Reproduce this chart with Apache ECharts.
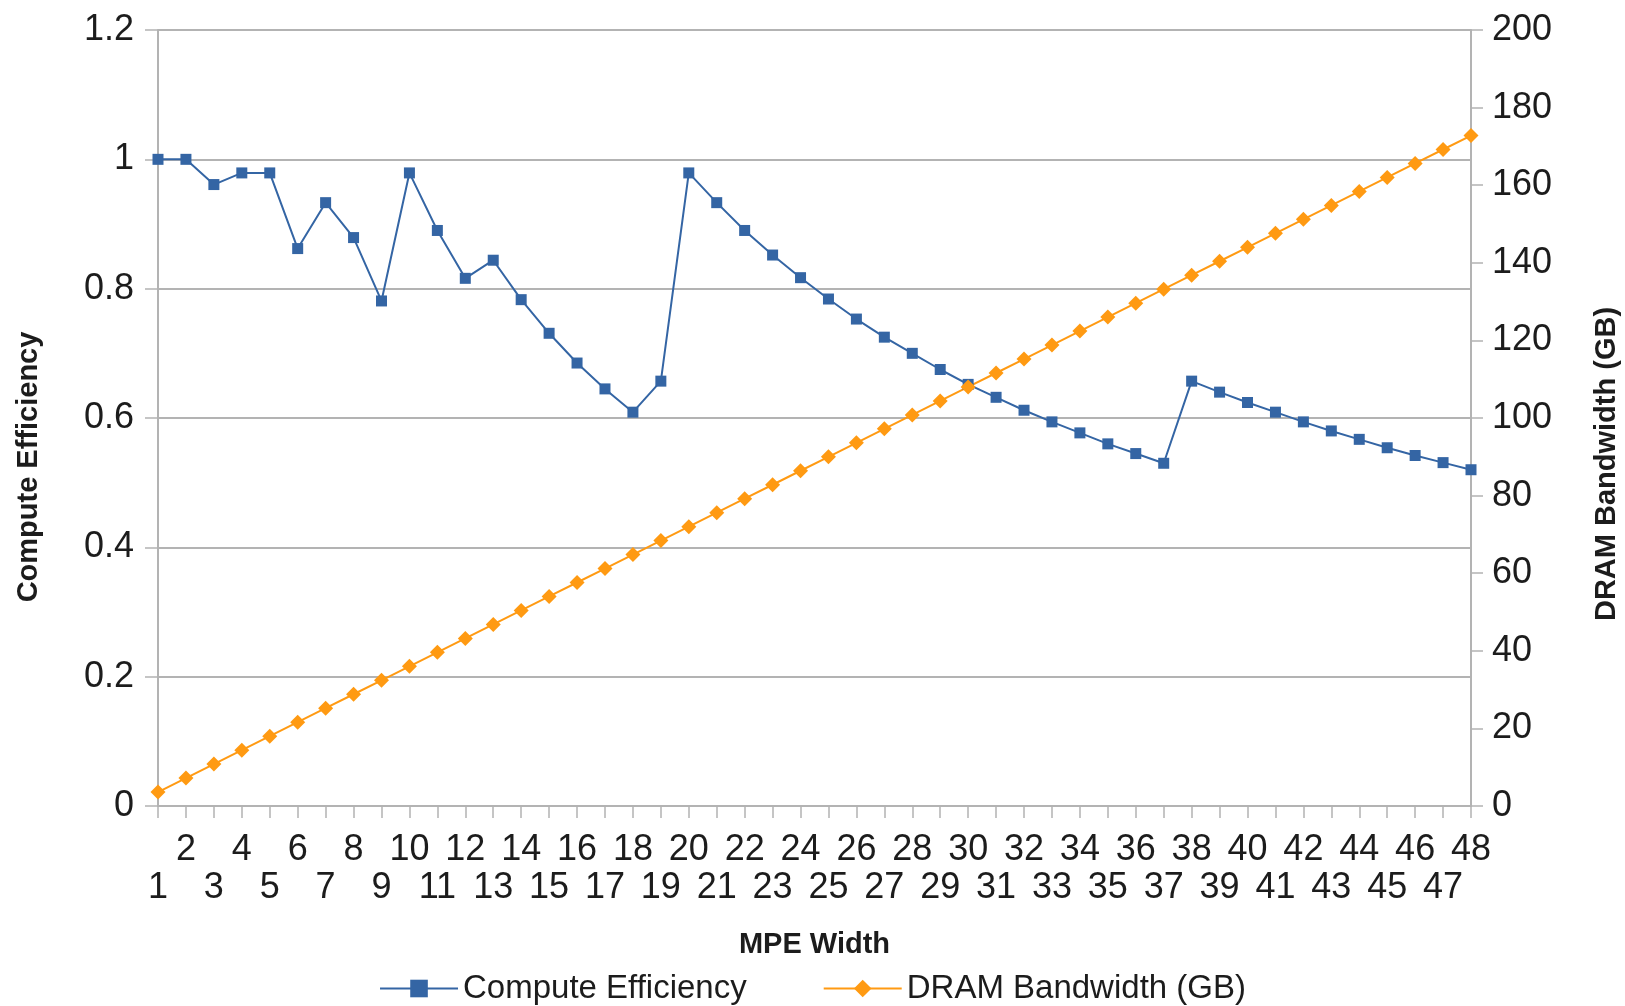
<!DOCTYPE html>
<html>
<head>
<meta charset="utf-8">
<title>Compute Efficiency vs DRAM Bandwidth</title>
<script src="https://cdn.jsdelivr.net/npm/echarts@6/dist/echarts.min.js"></script>
<style>
  html, body { margin: 0; padding: 0; background: #fff; }
  #chart { width: 1625px; height: 1006px; }
</style>
</head>
<body>
<div id="chart"></div>
<script>
// MPE width categories
const widths = [1, 2, 3, 4, 5, 6, 7, 8, 9, 10, 11, 12, 13, 14, 15, 16, 17, 18, 19, 20,
  21, 22, 23, 24, 25, 26, 27, 28, 29, 30, 31, 32, 33, 34, 35, 36, 37, 38, 39, 40,
  41, 42, 43, 44, 45, 46, 47, 48];

const computeEfficiency = [1.0, 1.0, 0.961, 0.979, 0.979, 0.862, 0.933, 0.879, 0.781, 0.979,
  0.890, 0.816, 0.844, 0.783, 0.731, 0.685, 0.645, 0.609, 0.657, 0.979,
  0.933, 0.890, 0.852, 0.817, 0.784, 0.753, 0.725, 0.700, 0.675, 0.652,
  0.632, 0.612, 0.594, 0.577, 0.560, 0.545, 0.530, 0.657, 0.640, 0.624,
  0.609, 0.594, 0.580, 0.567, 0.554, 0.542, 0.531, 0.520];

const dramBandwidth = [3.6, 7.2, 10.8, 14.4, 18, 21.6, 25.2, 28.8, 32.4, 36,
  39.6, 43.2, 46.8, 50.4, 54, 57.6, 61.2, 64.8, 68.4, 72,
  75.6, 79.2, 82.8, 86.4, 90, 93.6, 97.2, 100.8, 104.4, 108,
  111.6, 115.2, 118.8, 122.4, 126, 129.6, 133.2, 136.8, 140.4, 144,
  147.6, 151.2, 154.8, 158.4, 162, 165.6, 169.2, 172.8];

const FONT = '"Liberation Sans", Arial, sans-serif';
const TXT = '#1c1c1c';
const GRID = '#b3b3b3';

var myChart = echarts.init(document.getElementById('chart'));

var option = {
  animation: false,
  textStyle: { fontFamily: FONT, color: TXT },
  grid: { left: 158, right: 154, top: 30, bottom: 200, containLabel: false, outerBoundsMode: 'none' },
  legend: {
    top: 972,
    left: 'center',
    padding: 0,
    itemWidth: 78,
    itemHeight: 22,
    itemGap: 76,
    textStyle: { fontFamily: FONT, fontSize: 33, color: TXT },
    data: ['Compute Efficiency', 'DRAM Bandwidth (GB)']
  },
  xAxis: {
    type: 'category',
    boundaryGap: false,
    data: widths,
    name: 'MPE Width',
    nameLocation: 'middle',
    nameGap: 124,
    nameTextStyle: { fontFamily: FONT, fontSize: 29, fontWeight: 'bold', color: TXT },
    axisLine: { lineStyle: { color: GRID, width: 2 } },
    axisTick: { show: true, interval: 0, length: 12, lineStyle: { color: GRID, width: 1.5 } },
    axisLabel: {
      interval: 0,
      margin: 25,
      fontSize: 36,
      lineHeight: 38,
      color: TXT,
      formatter: function (v) {
        // odd widths go on the second row
        return (Number(v) % 2 === 1) ? '\n' + v : String(v);
      }
    },
    splitLine: { show: false }
  },
  yAxis: [
    {
      type: 'value',
      min: 0,
      max: 1.2,
      interval: 0.2,
      name: 'Compute Efficiency',
      nameLocation: 'middle',
      nameRotate: 90,
      nameGap: 115,
      nameTextStyle: { fontFamily: FONT, fontSize: 29, fontWeight: 'bold', color: TXT, padding: [0, 98, 0, 0] },
      axisLine: { show: true, lineStyle: { color: GRID, width: 2 } },
      axisTick: { show: true, length: 13, lineStyle: { color: GRID, width: 1.5 } },
      axisLabel: { margin: 24, fontSize: 36, color: TXT },
      splitLine: { show: true, lineStyle: { color: GRID, width: 2 } }
    },
    {
      type: 'value',
      min: 0,
      max: 200,
      interval: 20,
      name: 'DRAM Bandwidth (GB)',
      nameLocation: 'middle',
      nameRotate: 90,
      nameGap: 121,
      nameTextStyle: { fontFamily: FONT, fontSize: 29, fontWeight: 'bold', color: TXT, padding: [0, 92, 0, 0] },
      axisLine: { show: true, lineStyle: { color: GRID, width: 2 } },
      axisTick: { show: true, length: 12, lineStyle: { color: GRID, width: 1.5 } },
      axisLabel: { margin: 21, fontSize: 36, color: TXT },
      splitLine: { show: false }
    }
  ],
  series: [
    {
      name: 'Compute Efficiency',
      type: 'line',
      yAxisIndex: 0,
      data: computeEfficiency,
      symbol: 'rect',
      symbolSize: 11,
      color: '#3465a4',
      lineStyle: { color: '#3465a4', width: 2 },
      itemStyle: { color: '#3465a4' }
    },
    {
      name: 'DRAM Bandwidth (GB)',
      type: 'line',
      yAxisIndex: 1,
      data: dramBandwidth,
      symbol: 'diamond',
      symbolSize: 15,
      color: '#ff9a12',
      lineStyle: { color: '#ff9a12', width: 2 },
      itemStyle: { color: '#ff9a12' }
    }
  ]
};

myChart.setOption(option);
</script>
</body>
</html>
